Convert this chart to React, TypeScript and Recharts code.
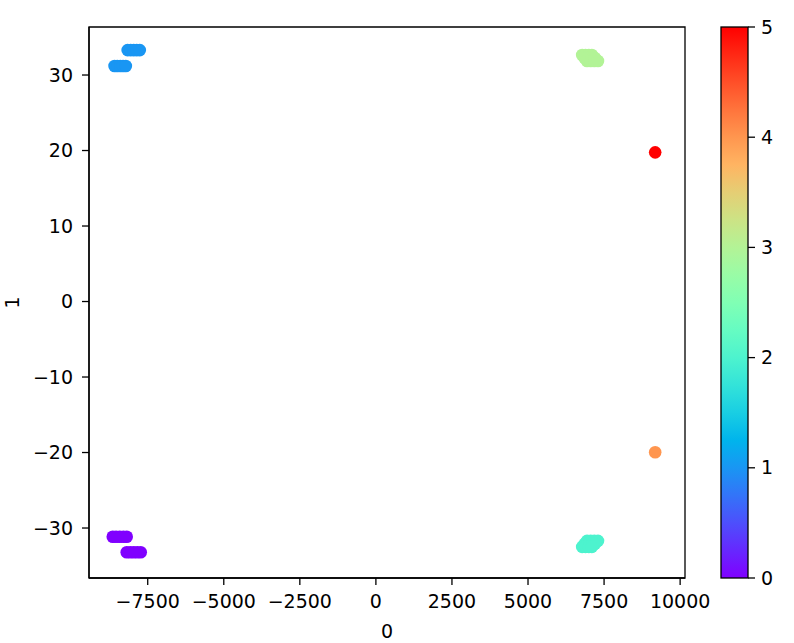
import React from "react";
import {
  ScatterChart,
  Scatter,
  XAxis,
  YAxis,
  ReferenceArea,
} from "recharts";

// ---- data ----
const cluster0 = [
  { x: -8650, y: -31.15 }, { x: -8540, y: -31.15 }, { x: -8420, y: -31.15 }, { x: -8300, y: -31.15 }, { x: -8190, y: -31.15 },
  { x: -8190, y: -33.2 }, { x: -8075, y: -33.2 }, { x: -7960, y: -33.2 }, { x: -7845, y: -33.2 }, { x: -7730, y: -33.2 },
];
const cluster1 = [
  { x: -8590, y: 31.2 }, { x: -8500, y: 31.2 }, { x: -8400, y: 31.2 }, { x: -8310, y: 31.2 }, { x: -8220, y: 31.2 },
  { x: -8160, y: 33.3 }, { x: -8060, y: 33.3 }, { x: -7960, y: 33.3 }, { x: -7860, y: 33.3 }, { x: -7760, y: 33.3 },
];
const cluster2 = [
  { x: 6940, y: -31.7 }, { x: 7060, y: -31.7 }, { x: 7180, y: -31.7 }, { x: 7300, y: -31.7 },
  { x: 6860, y: -32.1 }, { x: 6980, y: -32.1 }, { x: 7100, y: -32.1 }, { x: 7200, y: -32.1 },
  { x: 6780, y: -32.5 }, { x: 6890, y: -32.5 }, { x: 7000, y: -32.5 }, { x: 7100, y: -32.5 },
];
const cluster3 = [
  { x: 6780, y: 32.65 }, { x: 6890, y: 32.65 }, { x: 7000, y: 32.65 }, { x: 7100, y: 32.65 },
  { x: 6860, y: 32.25 }, { x: 6980, y: 32.25 }, { x: 7100, y: 32.25 }, { x: 7200, y: 32.25 },
  { x: 6940, y: 31.85 }, { x: 7060, y: 31.85 }, { x: 7180, y: 31.85 }, { x: 7300, y: 31.85 },
];
const cluster4 = [{ x: 9180, y: -19.97 }];
const cluster5 = [{ x: 9180, y: 19.76 }];

const clusters = [cluster0, cluster1, cluster2, cluster3, cluster4, cluster5];
const clusterColors = ["#8000ff", "#1996f3", "#4df3ce", "#b2f396", "#ff964f", "#ff0000"];

const xTicks = [-7500, -5000, -2500, 0, 2500, 5000, 7500, 10000];
const yTicks = [-30, -20, -10, 0, 10, 20, 30];
const cbTicks = [0, 1, 2, 3, 4, 5];
const xDomain: [number, number] = [-9430, 10160];
const yDomain: [number, number] = [-36.62, 36.36];

// rainbow colormap stops (style)
const rainbow = (t: number) => {
  const r = Math.min(1, Math.abs(2 * t - 0.5));
  const g = Math.sin(Math.PI * t);
  const b = Math.cos((Math.PI * t) / 2);
  const h = (v: number) => Math.round(v * 255).toString(16).padStart(2, "0");
  return "#" + h(r) + h(g) + h(b);
};
const gradStops = Array.from({ length: 21 }, (_, i) => i / 20);

const FONT = "DejaVu Sans, sans-serif";
const FS = 19;
const fmt = (v: number) => String(v).replace("-", "\u2212");

const dot = (color: string) => (props: any) =>
  <circle cx={props.cx} cy={props.cy} r={6.3} fill={color} />;

// colorbar geometry
const CB_X = 721, CB_W = 27, CB_TOP = 27, CB_BOT = 578;

export default function App() {
  return (
    <div style={{ position: "absolute", left: 0, top: 0, width: 794, height: 643, background: "#fff" }}>
      <ScatterChart
        width={794}
        height={643}
        margin={{ top: 27, right: 109, bottom: 0, left: 0 }}
      >
        <XAxis
          type="number"
          dataKey="x"
          domain={xDomain}
          ticks={xTicks}
          allowDataOverflow
          height={65}
          tickSize={7}
          tickMargin={10}
          tickFormatter={fmt}
          stroke="#000"
          strokeWidth={1.3}
          tick={{ fill: "#000", fontSize: FS, fontFamily: FONT }}
          label={{ value: "0", position: "insideBottom", offset: 5, fill: "#000", fontSize: FS, fontFamily: FONT }}
        />
        <YAxis
          type="number"
          dataKey="y"
          domain={yDomain}
          ticks={yTicks}
          allowDataOverflow
          width={89}
          tickSize={7}
          tickMargin={9}
          tickFormatter={fmt}
          stroke="#000"
          strokeWidth={1.3}
          tick={{ fill: "#000", fontSize: FS, fontFamily: FONT }}
          label={{
            content: (p: any) => (
              <text
                x={0}
                y={0}
                transform={`translate(19, ${p.viewBox.y + p.viewBox.height / 2}) rotate(-90)`}
                textAnchor="middle"
                fill="#000"
                fontSize={FS}
                fontFamily={FONT}
              >
                1
              </text>
            ),
          }}
        />
        <ReferenceArea
          x1={xDomain[0]}
          x2={xDomain[1]}
          y1={yDomain[0]}
          y2={yDomain[1]}
          fill="none"
          stroke="#000"
          strokeWidth={1.3}
          ifOverflow="visible"
        />
        {clusters.map((c, i) => (
          <Scatter
            key={i}
            data={c}
            fill={clusterColors[i]}
            shape={dot(clusterColors[i])}
            isAnimationActive={false}
          />
        ))}
      </ScatterChart>
      <svg
        width={794}
        height={643}
        style={{ position: "absolute", left: 0, top: 0, pointerEvents: "none" }}
      >
        <defs>
          <linearGradient id="cb" x1="0" y1="1" x2="0" y2="0">
            {gradStops.map((t) => (
              <stop key={t} offset={t} stopColor={rainbow(t)} />
            ))}
          </linearGradient>
        </defs>
        <rect x={CB_X} y={CB_TOP} width={CB_W} height={CB_BOT - CB_TOP} fill="url(#cb)" stroke="#000" strokeWidth={1.3} />
        {cbTicks.map((v) => {
          const y = CB_BOT - (v / 5) * (CB_BOT - CB_TOP);
          return (
            <g key={v}>
              <line x1={CB_X + CB_W} x2={CB_X + CB_W + 7} y1={y} y2={y} stroke="#000" strokeWidth={1.3} />
              <text x={CB_X + CB_W + 13} y={y} dy="0.35em" fill="#000" fontSize={FS} fontFamily={FONT}>
                {v}
              </text>
            </g>
          );
        })}
      </svg>
    </div>
  );
}
